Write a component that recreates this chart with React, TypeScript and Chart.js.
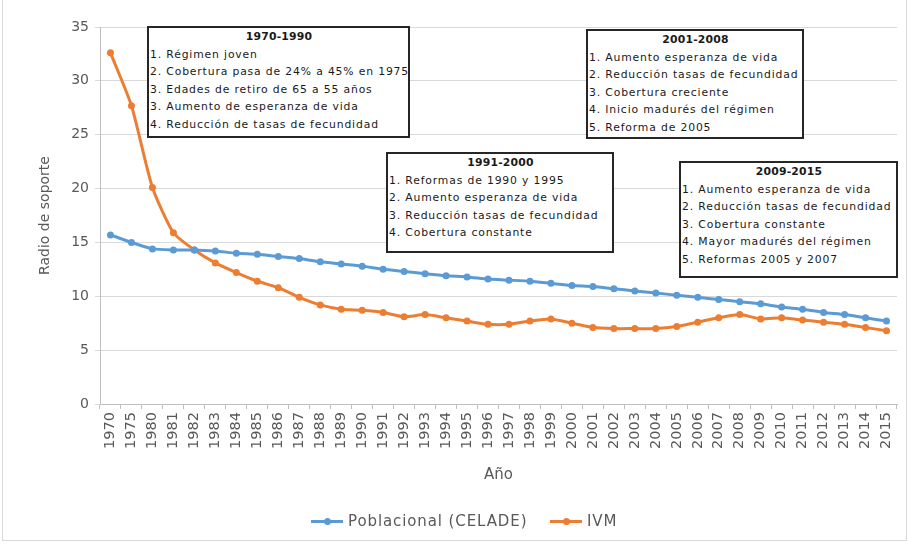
import React, { useEffect, useRef } from 'react';
import { Chart, registerables } from 'chart.js';

Chart.register(...registerables);

const years = [
  '1970', '1975', '1980', '1981', '1982', '1983', '1984', '1985', '1986', '1987',
  '1988', '1989', '1990', '1991', '1992', '1993', '1994', '1995', '1996', '1997',
  '1998', '1999', '2000', '2001', '2002', '2003', '2004', '2005', '2006', '2007',
  '2008', '2009', '2010', '2011', '2012', '2013', '2014', '2015',
];

const poblacional = [
  15.7, 15.0, 14.4, 14.3, 14.3, 14.2, 14.0, 13.9, 13.7, 13.5,
  13.2, 13.0, 12.8, 12.5, 12.3, 12.1, 11.9, 11.8, 11.6, 11.5,
  11.4, 11.2, 11.0, 10.9, 10.7, 10.5, 10.3, 10.1, 9.9, 9.7,
  9.5, 9.3, 9.0, 8.8, 8.5, 8.3, 8.0, 7.7,
];

const ivm = [
  32.6, 27.7, 20.1, 15.9, 14.3, 13.1, 12.2, 11.4, 10.8, 9.9,
  9.2, 8.8, 8.7, 8.5, 8.1, 8.3, 8.0, 7.7, 7.4, 7.4,
  7.7, 7.9, 7.5, 7.1, 7.0, 7.0, 7.0, 7.2, 7.6, 8.0,
  8.3, 7.9, 8.0, 7.8, 7.6, 7.4, 7.1, 6.8,
];

const seriesNames = ['Poblacional (CELADE)', 'IVM'];
const seriesColors = ['#5b9bd5', '#ed7d31'];
const yAxisTitle = 'Radio de soporte';
const xAxisTitle = 'Año';

const box1Title = '1970-1990';
const box1Items = [
  '1. Régimen joven',
  '2. Cobertura pasa de 24% a 45% en 1975',
  '3. Edades de retiro de 65 a 55 años',
  '3. Aumento de esperanza de vida',
  '4. Reducción de tasas de fecundidad',
];
const box2Title = '1991-2000';
const box2Items = [
  '1. Reformas de 1990 y 1995',
  '2. Aumento esperanza de vida',
  '3. Reducción tasas de fecundidad',
  '4. Cobertura constante',
];
const box3Title = '2001-2008';
const box3Items = [
  '1. Aumento esperanza de vida',
  '2. Reducción tasas de fecundidad',
  '3. Cobertura creciente',
  '4. Inicio madurés del régimen',
  '5. Reforma de 2005',
];
const box4Title = '2009-2015';
const box4Items = [
  '1. Aumento esperanza de vida',
  '2. Reducción tasas de fecundidad',
  '3. Cobertura constante',
  '4. Mayor madurés del régimen',
  '5. Reformas 2005 y 2007',
];

const FONT = '"DejaVu Sans", sans-serif';
const GRAY = '#595959';

type BoxProps = { title: string; items: string[]; left: number; top: number; width: number; height: number };

function NoteBox({ title, items, left, top, width, height }: BoxProps) {
  return (
    <div
      style={{
        position: 'absolute',
        left,
        top,
        width,
        height,
        boxSizing: 'border-box',
        border: '2px solid #262626',
        background: '#fff',
        fontFamily: FONT,
        fontSize: 10.8,
        lineHeight: '17.6px',
        color: '#1a1a1a',
        paddingLeft: 1,
        whiteSpace: 'nowrap',
        overflow: 'hidden',
        letterSpacing: 0.85,
      }}
    >
      <div style={{ textAlign: 'center', fontWeight: 'bold', letterSpacing: 0.2 }}>{title}</div>
      {items.map((t, i) => (
        <div key={i}>{t}</div>
      ))}
    </div>
  );
}

function LegendItem({ color, label, left }: { color: string; label: string; left: number }) {
  return (
    <div style={{ position: 'absolute', left, top: 511, height: 20, display: 'flex', alignItems: 'center' }}>
      <div style={{ position: 'relative', width: 32, height: 20 }}>
        <div style={{ position: 'absolute', left: 0, top: 8.5, width: 32, height: 3, background: color }} />
        <div
          style={{
            position: 'absolute',
            left: 12.5,
            top: 6.5,
            width: 7,
            height: 7,
            borderRadius: '50%',
            background: color,
          }}
        />
      </div>
      <span style={{ marginLeft: 5, fontFamily: FONT, fontSize: 15, letterSpacing: 0.9, color: GRAY }}>{label}</span>
    </div>
  );
}

export default function App() {
  const canvasRef = useRef<HTMLCanvasElement | null>(null);

  useEffect(() => {
    document.body.style.margin = '0';
    const canvas = canvasRef.current;
    if (!canvas) return;
    const chart = new Chart(canvas, {
      type: 'line',
      data: {
        labels: years,
        datasets: [
          {
            label: seriesNames[0],
            data: poblacional,
            borderColor: seriesColors[0],
            backgroundColor: seriesColors[0],
            borderWidth: 3,
            pointRadius: 3.5,
            pointBorderWidth: 0,
            pointBackgroundColor: seriesColors[0],
            tension: 0.2,
          },
          {
            label: seriesNames[1],
            data: ivm,
            borderColor: seriesColors[1],
            backgroundColor: seriesColors[1],
            borderWidth: 3,
            pointRadius: 3.5,
            pointBorderWidth: 0,
            pointBackgroundColor: seriesColors[1],
            tension: 0.2,
          },
        ],
      },
      options: {
        responsive: false,
        maintainAspectRatio: false,
        animation: false,
        devicePixelRatio: 1,
        layout: { padding: { left: 0, right: 11, top: 27, bottom: 50 } },
        plugins: {
          legend: { display: false },
          tooltip: { enabled: false },
        },
        scales: {
          x: {
            type: 'category',
            offset: true,
            grid: {
              offset: true,
              drawOnChartArea: false,
              drawTicks: true,
              tickLength: 5,
              color: '#bfbfbf',
            },
            border: { color: '#bfbfbf', width: 1 },
            ticks: {
              autoSkip: false,
              minRotation: 90,
              maxRotation: 90,
              padding: 3,
              color: GRAY,
              font: { family: FONT, size: 14.5 },
            },
            title: {
              display: true,
              text: xAxisTitle,
              color: GRAY,
              font: { family: FONT, size: 15 },
              padding: { top: 0, bottom: 10 },
            },
            afterFit: (s: any) => {
              s.height = 90;
            },
          },
          y: {
            min: 0,
            max: 35,
            ticks: {
              stepSize: 5,
              padding: 6,
              color: GRAY,
              font: { family: FONT, size: 14 },
            },
            grid: {
              color: '#d9d9d9',
              drawTicks: true,
              tickLength: 5,
            },
            border: { color: '#bfbfbf', width: 1 },
            title: {
              display: true,
              text: yAxisTitle,
              color: GRAY,
              font: { family: FONT, size: 14 },
              padding: { top: 37, bottom: 0 },
            },
            afterFit: (s: any) => {
              s.width = 100;
            },
          },
        },
      },
    });
    return () => chart.destroy();
  }, []);

  return (
    <div style={{ position: 'fixed', left: 0, top: 0, width: 908, height: 544, background: '#fff' }}>
      <div
        style={{
          position: 'absolute',
          left: 2,
          top: -1,
          width: 905,
          height: 542,
          boxSizing: 'border-box',
          border: '1px solid #d9d9d9',
        }}
      />
      <canvas ref={canvasRef} width={908} height={544} style={{ position: 'absolute', left: 0, top: 0 }} />
      <NoteBox title={box1Title} items={box1Items} left={147} top={26} width={263} height={112} />
      <NoteBox title={box2Title} items={box2Items} left={386} top={152} width={228} height={101} />
      <NoteBox title={box3Title} items={box3Items} left={586} top={29} width={218} height={110} />
      <NoteBox title={box4Title} items={box4Items} left={679} top={161} width={219} height={117} />
      <LegendItem color={seriesColors[0]} label={seriesNames[0]} left={311} />
      <LegendItem color={seriesColors[1]} label={seriesNames[1]} left={550} />
    </div>
  );
}
